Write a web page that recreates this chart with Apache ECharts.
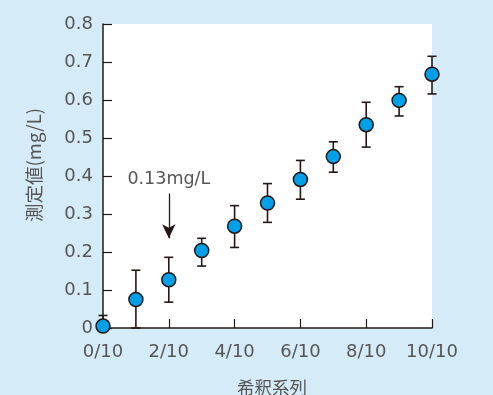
<!DOCTYPE html>
<html><head><meta charset="utf-8">
<script src="https://cdn.jsdelivr.net/npm/echarts@6/dist/echarts.min.js"></script>
<style>html,body{margin:0;padding:0;background:#d5ebf8;}#c{width:493px;height:395px;}</style>
</head><body><div id="c"></div>
<script>
const xValues = [0,1,2,3,4,5,6,7,8,9,10];
const yValues = [0.005,0.075,0.127,0.204,0.268,0.329,0.391,0.451,0.535,0.599,0.668];
const errHigh = [0.033,0.152,0.186,0.236,0.322,0.380,0.441,0.490,0.594,0.635,0.715];
const errLow  = [0.0,0.0,0.068,0.163,0.212,0.278,0.339,0.410,0.476,0.558,0.616];
const yTicks = [0,0.1,0.2,0.3,0.4,0.5,0.6,0.7,0.8];
const annotationText = '0.13mg/L';

const chart = echarts.init(document.getElementById('c'));
const ink = '#231815';
const lab = '#555555';
const numFont = 'DejaVu Sans';
chart.setOption({
  animation:false,
  backgroundColor:'#d5ebf8',
  grid:{left:103,right:61,top:24,bottom:67,show:true,backgroundColor:'#ffffff',borderWidth:0,
    containLabel:false,outerBoundsMode:'none'},
  xAxis:{type:'value',min:0,max:10,interval:2,
    name:'希釈系列',nameLocation:'middle',nameGap:51,
    nameTextStyle:{color:lab,fontSize:17.5,fontFamily:'Noto Sans CJK JP',padding:[0,0,0,9]},
    axisLine:{lineStyle:{color:ink,width:1.5}},
    axisTick:{inside:true,length:9,lineStyle:{color:ink,width:1.2}},
    axisLabel:{color:lab,fontSize:18,margin:15,fontFamily:numFont,formatter:v=>v+'/10'},
    splitLine:{show:false}},
  yAxis:{type:'value',min:0,max:0.8,interval:0.1,
    name:'測定値(mg/L)',nameLocation:'middle',nameGap:60,
    nameTextStyle:{color:lab,fontSize:18.5,fontFamily:'Noto Sans CJK JP',padding:[0,0,0,22]},
    axisLine:{show:true,lineStyle:{color:ink,width:1.5}},
    axisTick:{inside:true,length:9,lineStyle:{color:ink,width:1.2}},
    axisLabel:{color:lab,fontSize:18,margin:10,fontFamily:numFont,
      formatter:v=>{const t=yTicks.find(k=>Math.abs(k-v)<1e-9);return t===0?'0':String(Math.round(v*10)/10);}},
    splitLine:{show:false}},
  series:[
    {type:'custom',
     data:xValues.map((x,i)=>[x,errLow[i],errHigh[i]]),
     renderItem:(params,api)=>{
       const x=api.value(0);
       const lo=api.coord([x,api.value(1)]);
       const hi=api.coord([x,api.value(2)]);
       const w=4.5;
       const st={stroke:ink,lineWidth:1.6};
       return {type:'group',children:[
         {type:'line',shape:{x1:hi[0],y1:hi[1],x2:lo[0],y2:lo[1]},style:st},
         {type:'line',shape:{x1:hi[0]-w,y1:hi[1],x2:hi[0]+w,y2:hi[1]},style:st},
         {type:'line',shape:{x1:lo[0]-w,y1:lo[1],x2:lo[0]+w,y2:lo[1]},style:st}
       ]};
     },
     z:2},
    {type:'scatter',
     data:xValues.map((x,i)=>[x,yValues[i]]),
     symbolSize:14,
     itemStyle:{color:'#00a0e9',borderColor:ink,borderWidth:1.5,opacity:1},
     clip:false,
     z:3,
     markLine:{silent:true,symbol:['none','arrow'],symbolSize:[10,14],
       lineStyle:{color:ink,width:1.3,type:'solid'},
       label:{show:true,position:'start',formatter:annotationText,color:lab,fontSize:17.5,fontFamily:numFont,distance:5},
       data:[[{coord:[2,0.354]},{coord:[2,0.236]}]]}
    }
  ]
});
</script></body></html>
